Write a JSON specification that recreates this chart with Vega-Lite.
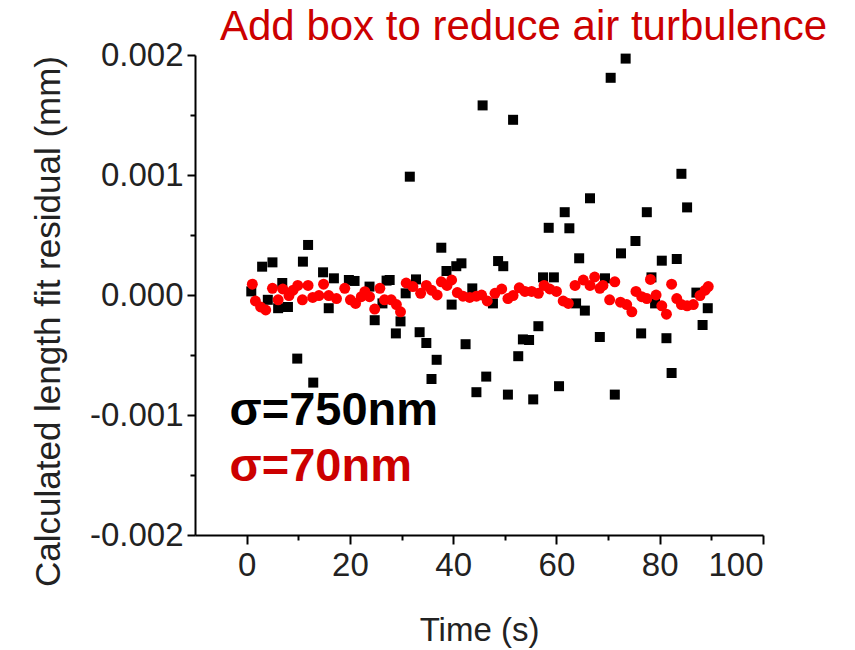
{
  "$schema": "https://vega.github.io/schema/vega-lite/v6.json",
  "width": 568,
  "height": 480,
  "autosize": "none",
  "padding": {"left": 195, "top": 55, "right": 92, "bottom": 115},
  "background": "white",
  "config": {"view": {"stroke": null}, "font": "Liberation Sans"},
  "title": {
    "text": "Add box to reduce air turbulence",
    "anchor": "start",
    "frame": "group",
    "dx": 25,
    "offset": -10,
    "fontSize": 42,
    "fontWeight": "normal",
    "color": "#cc0000",
    "font": "Liberation Sans"
  },
  "datasets": {
    "black": [
      {"t": 0.9, "v": 0.00003}, {"t": 3.0, "v": 0.000236}, {"t": 4.1, "v": -0.00004}, {"t": 5.0, "v": 0.000272},
      {"t": 6.1, "v": -0.00011}, {"t": 6.9, "v": 0.0001}, {"t": 8.0, "v": -0.0001}, {"t": 9.8, "v": -0.00053},
      {"t": 10.9, "v": 0.000278}, {"t": 11.9, "v": 0.000417}, {"t": 12.9, "v": -0.00073}, {"t": 14.8, "v": 0.000189},
      {"t": 15.9, "v": -0.00011}, {"t": 16.9, "v": 0.000139}, {"t": 19.8, "v": 0.000125}, {"t": 20.9, "v": 0.000117},
      {"t": 23.8, "v": 0.00007}, {"t": 24.8, "v": -0.00021}, {"t": 26.3, "v": -0.00007}, {"t": 27.1, "v": 0.00012},
      {"t": 27.7, "v": 0.000125}, {"t": 28.9, "v": -0.00032}, {"t": 29.8, "v": -0.00022}, {"t": 30.8, "v": 0.000014},
      {"t": 31.6, "v": 0.000986}, {"t": 32.8, "v": 0.00013}, {"t": 33.5, "v": -0.00031}, {"t": 34.8, "v": -0.0004},
      {"t": 35.8, "v": -0.0007}, {"t": 36.8, "v": -0.00054}, {"t": 37.7, "v": 0.000394}, {"t": 38.7, "v": 0.0002},
      {"t": 39.7, "v": -0.00008}, {"t": 40.6, "v": 0.00024}, {"t": 41.6, "v": 0.000264}, {"t": 42.4, "v": -0.00041},
      {"t": 43.7, "v": 0.000055}, {"t": 44.5, "v": -0.00081}, {"t": 45.7, "v": 0.00158}, {"t": 46.4, "v": -0.00068},
      {"t": 47.7, "v": -0.00007}, {"t": 48.7, "v": 0.000283}, {"t": 49.7, "v": 0.00024}, {"t": 50.6, "v": -0.00083},
      {"t": 51.6, "v": 0.00146}, {"t": 52.6, "v": -0.00051}, {"t": 53.5, "v": -0.00037}, {"t": 54.7, "v": -0.000375},
      {"t": 55.5, "v": -0.00087}, {"t": 56.5, "v": -0.00026}, {"t": 57.4, "v": 0.000147}, {"t": 58.5, "v": 0.00056},
      {"t": 59.5, "v": 0.000147}, {"t": 60.5, "v": -0.00076}, {"t": 61.6, "v": 0.00069}, {"t": 62.5, "v": 0.000556},
      {"t": 63.8, "v": -0.00007}, {"t": 64.4, "v": 0.000306}, {"t": 65.5, "v": -0.00013}, {"t": 66.5, "v": 0.000806},
      {"t": 68.4, "v": -0.00035}, {"t": 69.4, "v": 0.000139}, {"t": 70.5, "v": 0.00181}, {"t": 71.3, "v": -0.00083},
      {"t": 72.5, "v": 0.000347}, {"t": 73.4, "v": 0.00197}, {"t": 75.3, "v": 0.00045}, {"t": 76.4, "v": -0.00032},
      {"t": 77.5, "v": 0.00069}, {"t": 78.4, "v": 0.000147}, {"t": 79.1, "v": -0.00007}, {"t": 80.4, "v": 0.000286},
      {"t": 81.3, "v": -0.00036}, {"t": 82.3, "v": -0.00065}, {"t": 83.3, "v": 0.0003}, {"t": 84.2, "v": 0.00101},
      {"t": 85.3, "v": 0.00073}, {"t": 87.1, "v": 0.00002}, {"t": 88.3, "v": -0.00025}, {"t": 89.3, "v": -0.00011}
    ],
    "red": [
      {"t": 1.1, "v": 0.00009}, {"t": 1.7, "v": -0.00005}, {"t": 2.7, "v": -0.0001}, {"t": 3.7, "v": -0.000125},
      {"t": 5.0, "v": 0.000056}, {"t": 6.1, "v": -0.00004}, {"t": 7.0, "v": 0.00005}, {"t": 8.2, "v": -0.000005},
      {"t": 9.0, "v": 0.00004}, {"t": 9.9, "v": 0.00008}, {"t": 10.8, "v": -0.00004}, {"t": 11.9, "v": 0.00008},
      {"t": 12.8, "v": -0.00002}, {"t": 14.0, "v": -0.000005}, {"t": 14.9, "v": 0.00009}, {"t": 15.9, "v": -0.000005},
      {"t": 17.4, "v": -0.00003}, {"t": 19.0, "v": 0.000056}, {"t": 20.1, "v": -0.00004}, {"t": 21.1, "v": -0.00007},
      {"t": 22.2, "v": -0.000014}, {"t": 22.9, "v": 0.000028}, {"t": 23.8, "v": -0.000014}, {"t": 24.8, "v": -0.000117},
      {"t": 25.8, "v": 0.000056}, {"t": 26.7, "v": -0.00004}, {"t": 28.0, "v": -0.00004}, {"t": 29.0, "v": -0.00008},
      {"t": 29.8, "v": -0.00014}, {"t": 30.9, "v": 0.0001}, {"t": 32.2, "v": 0.00007}, {"t": 33.7, "v": 0.000014},
      {"t": 34.8, "v": 0.00008}, {"t": 35.8, "v": 0.00004}, {"t": 36.9, "v": 0.0}, {"t": 37.7, "v": 0.00011},
      {"t": 38.8, "v": 0.00008}, {"t": 39.7, "v": 0.000125}, {"t": 40.8, "v": 0.00002}, {"t": 41.9, "v": -0.00001},
      {"t": 43.2, "v": -0.00002}, {"t": 44.5, "v": -0.00001}, {"t": 45.5, "v": 0.0}, {"t": 46.6, "v": -0.00005},
      {"t": 48.1, "v": 0.000014}, {"t": 49.4, "v": 0.00005}, {"t": 50.6, "v": -0.00003}, {"t": 51.6, "v": -0.000005},
      {"t": 52.8, "v": 0.00006}, {"t": 53.9, "v": 0.00003}, {"t": 55.2, "v": 0.00003}, {"t": 56.5, "v": 0.000014},
      {"t": 57.6, "v": 0.00008}, {"t": 58.7, "v": 0.00005}, {"t": 60.0, "v": 0.00003}, {"t": 61.3, "v": -0.00005},
      {"t": 62.3, "v": -0.00007}, {"t": 63.6, "v": 0.00008}, {"t": 65.2, "v": 0.000125}, {"t": 66.5, "v": 0.00008},
      {"t": 67.4, "v": 0.00015}, {"t": 68.4, "v": 0.000056}, {"t": 69.0, "v": 0.00008}, {"t": 70.3, "v": -0.00004},
      {"t": 71.3, "v": 0.00011}, {"t": 72.4, "v": -0.00006}, {"t": 73.6, "v": -0.00008}, {"t": 74.6, "v": -0.00014},
      {"t": 75.4, "v": 0.00003}, {"t": 76.5, "v": -0.000014}, {"t": 77.5, "v": -0.00003}, {"t": 78.2, "v": 0.00013},
      {"t": 79.3, "v": 0.0}, {"t": 80.4, "v": -0.00009}, {"t": 81.3, "v": -0.00016}, {"t": 82.3, "v": 0.00009},
      {"t": 83.3, "v": -0.00003}, {"t": 84.2, "v": -0.00008}, {"t": 85.3, "v": -0.00009}, {"t": 86.5, "v": -0.00008},
      {"t": 87.8, "v": -0.000005}, {"t": 88.8, "v": 0.00004}, {"t": 89.4, "v": 0.00007}
    ],
    "notes": [
      {"t": -3.3, "v": -0.00108, "label": "σ=750nm", "c": "#000000"},
      {"t": -3.3, "v": -0.00155, "label": "σ=70nm", "c": "#cc0000"}
    ]
  },
  "encoding": {
    "x": {
      "field": "t",
      "type": "quantitative",
      "scale": {"domain": [-10, 100], "nice": false, "zero": false},
      "axis": {
        "title": "Time (s)",
        "values": [0, 10, 20, 30, 40, 50, 60, 70, 80, 90, 100],
        "labelExpr": "datum.value % 20 === 0 ? datum.label : ''",
        "grid": false,
        "domainColor": "#000000",
        "domainWidth": 2,
        "tickColor": "#000000",
        "tickWidth": 2,
        "tickSize": {"condition": {"test": "datum.value % 20 !== 0", "value": 5}, "value": 9},
        "labelFontSize": 33,
        "labelColor": "#222222",
        "labelPadding": 5,
        "labelFont": "Liberation Sans",
        "titleFont": "Liberation Sans",
        "titleFontSize": 33,
        "titleFontWeight": "normal",
        "titleColor": "#222222",
        "titleX": 284,
        "titleY": 95,
        "titleBaseline": "middle"
      }
    },
    "y": {
      "field": "v",
      "type": "quantitative",
      "scale": {"domain": [-0.002, 0.002], "nice": false, "zero": false},
      "axis": {
        "title": "Calculated length fit residual (mm)",
        "values": [-0.002, -0.0015, -0.001, -0.0005, 0, 0.0005, 0.001, 0.0015, 0.002],
        "labelExpr": "abs(round(datum.value * 10000)) % 10 === 0 ? replace(format(datum.value, '.3f'), '−', '-') : ''",
        "grid": false,
        "domainColor": "#000000",
        "domainWidth": 2,
        "tickColor": "#000000",
        "tickWidth": 2,
        "tickSize": {"condition": {"test": "abs(round(datum.value * 10000)) % 10 !== 0", "value": 5}, "value": 8},
        "labelFontSize": 33,
        "labelColor": "#222222",
        "labelPadding": 4,
        "labelFont": "Liberation Sans",
        "titleFont": "Liberation Sans",
        "titleFontSize": 35,
        "titleFontWeight": "normal",
        "titleColor": "#222222",
        "titleAngle": -90,
        "titleX": -147,
        "titleY": 266,
        "titleAlign": "center",
        "titleBaseline": "middle"
      }
    }
  },
  "layer": [
    {
      "data": {"name": "black"},
      "mark": {"type": "point", "shape": "square", "filled": true, "size": 100, "color": "#000000", "opacity": 1}
    },
    {
      "data": {"name": "red"},
      "mark": {"type": "point", "shape": "circle", "filled": true, "size": 120, "color": "#ff0000", "opacity": 1}
    },
    {
      "data": {"name": "notes"},
      "mark": {"type": "text", "align": "left", "baseline": "alphabetic", "fontSize": 47, "fontWeight": "bold", "font": "Liberation Sans"},
      "encoding": {
        "text": {"field": "label"},
        "color": {"field": "c", "type": "nominal", "scale": null}
      }
    }
  ]
}
